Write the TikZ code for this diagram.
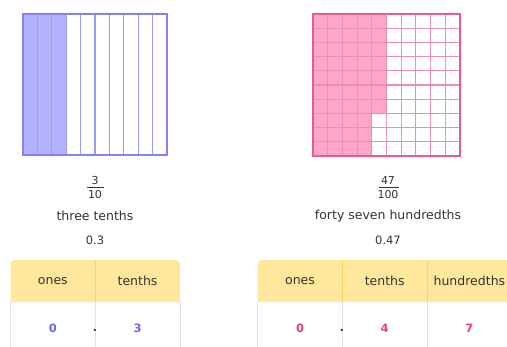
\documentclass[tikz,border=0pt]{standalone}
\usepackage{fontspec}
\setmainfont{DejaVu Sans}
\usetikzlibrary{positioning,backgrounds}
\definecolor{tenblue}{RGB}{178,178,255}
\definecolor{tenline}{RGB}{130,130,240}
\definecolor{hunpink}{RGB}{255,166,200}
\definecolor{hunline}{RGB}{230,92,150}
\definecolor{pvhead}{RGB}{255,232,156}
\definecolor{pvrule}{RGB}{255,212,100}
\definecolor{pvgray}{RGB}{224,224,232}
\definecolor{txtgray}{RGB}{51,51,51}
\definecolor{digblue}{RGB}{105,105,240}
\definecolor{digpink}{RGB}{228,64,136}
\tikzset{
  lbl/.style   = {font=\fontsize{12.5}{14}\selectfont, text=txtgray, inner sep=0pt},
  num/.style   = {font=\fontsize{11.5}{13}\selectfont, text=txtgray, inner sep=0pt},
  frac/.style  = {font=\fontsize{11}{13}\selectfont, text=txtgray, inner sep=0pt},
  head/.style  = {lbl, minimum width=84.3pt, minimum height=42pt},
  cell/.style  = {font=\fontsize{11.5}{13}\selectfont\bfseries, inner sep=0pt,
                  minimum width=84.3pt, minimum height=52pt},
  pt/.style    = {font=\fontsize{11}{13}\selectfont\bfseries, text=txtgray, inner sep=0pt},
}

\begin{document}
\begin{tikzpicture}[x=1pt, y=-1pt]
    \useasboundingbox (0,0) rectangle (507,347);
    \path[clip] (0,0) rectangle (507,347);

    % tenths strip: 3 of 10 columns shaded
    \fill[tenblue] (23,14) rectangle ({23+3*14.4},155);
    \foreach \i in {1,...,9}
      \draw[tenline!80, line width=1.1pt] ({23+14.4*\i},14) -- ({23+14.4*\i},155);
    \draw[tenline, line width=1.3pt] (23,14) rectangle (167,155);

    % hundredths square: 47 of 100 cells shaded
    \fill[hunpink] (313,14) rectangle ({313+4*14.7},156);
    \fill[hunpink] ({313+4*14.7},14) rectangle ({313+5*14.7},{14+7*14.2});
    \foreach \i in {1,...,9}{
      \draw[hunline!70, line width=1.1pt] ({313+14.7*\i},14) -- ({313+14.7*\i},156);
      \draw[hunline!70, line width=1.1pt] (313,{14+14.2*\i}) -- (460,{14+14.2*\i});
    }
    \draw[hunline, line width=1.3pt] (313,14) rectangle (460,156);

    % fractions, words and decimals
    \node[frac] (numL) at (95,180.5) {3};
    \node[frac] (denL) at (95,194) {10};
    \draw[txtgray, line width=0.6pt] (87,187) -- (104,187);
    \node[lbl] (wordL) at (95,216) {three tenths};
    \node[num] (decL) at (95,240) {0.3};

    \node[frac] (numR) at (388,180.5) {47};
    \node[frac] (denR) at (388,194) {100};
    \draw[txtgray, line width=0.6pt] (379,187) -- (399,187);
    \node[lbl] (wordR) at (388,216) {forty seven hundredths};
    \node[num] (decR) at (388,240) {0.47};

    % place value table: ones . tenths
    \node[head] (onesL) at (52.85,281) {ones};
    \node[head, right=0pt of onesL] (tenthsL) {tenths};
    \node[cell, text=digblue, below=0pt of onesL] (zeroL) {0};
    \node[cell, text=digblue, below=0pt of tenthsL] (threeL) {3};
    \node[pt] (dotL) at (95,330) {.};
    \begin{scope}[on background layer]
      \fill[pvhead] (onesL.south west) [rounded corners=4pt] -- (onesL.north west)
           -- (tenthsL.north east) [sharp corners] -- (tenthsL.south east) -- cycle;
      \draw[pvrule, line width=0.7pt] (onesL.north east) -- (onesL.south east);
      \draw[pvgray, line width=0.8pt] (zeroL.north west) -- (zeroL.south west)
           (zeroL.north east) -- (zeroL.south east)
           (threeL.north east) -- (threeL.south east);
    \end{scope}

    % place value table: ones . tenths hundredths
    \node[head] (onesR) at (300,281) {ones};
    \node[head, right=0pt of onesR] (tenthsR) {tenths};
    \node[head, right=0pt of tenthsR] (hundR) {hundredths};
    \node[cell, text=digpink, below=0pt of onesR] (zeroR) {0};
    \node[cell, text=digpink, below=0pt of tenthsR] (fourR) {4};
    \node[cell, text=digpink, below=0pt of hundR] (sevenR) {7};
    \node[pt] (dotR) at (342,330) {.};
    \begin{scope}[on background layer]
      \fill[pvhead] (onesR.south west) [rounded corners=4pt] -- (onesR.north west)
           -- (hundR.north east) [sharp corners] -- (hundR.south east) -- cycle;
      \draw[pvrule, line width=0.7pt] (onesR.north east) -- (onesR.south east)
           (tenthsR.north east) -- (tenthsR.south east);
      \draw[pvgray, line width=0.8pt] (zeroR.north west) -- (zeroR.south west)
           (zeroR.north east) -- (zeroR.south east)
           (fourR.north east) -- (fourR.south east);
    \end{scope}
\end{tikzpicture}
\end{document}
